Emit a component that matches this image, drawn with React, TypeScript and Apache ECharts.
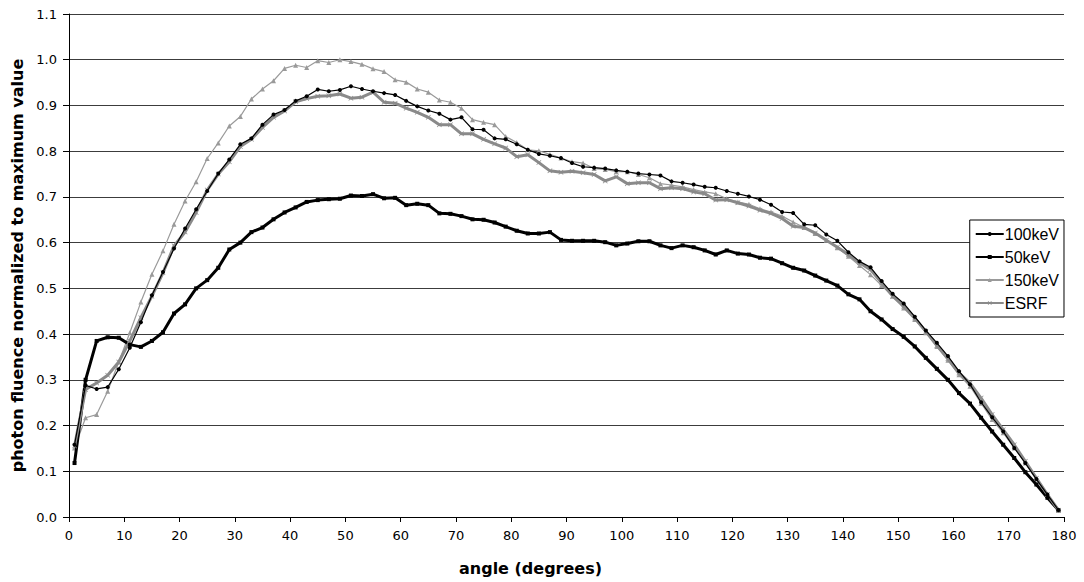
import React, { useEffect, useRef } from "react";
import * as echarts from "echarts";

// Sampled emission angles (degrees)
const angles = [
  1, 3, 5, 7, 9, 11, 13, 15, 17, 19, 21, 23, 25, 27, 29, 31, 33, 35, 37, 39,
  41, 43, 45, 47, 49, 51, 53, 55, 57, 59, 61, 63, 65, 67, 69, 71, 73, 75, 77, 79,
  81, 83, 85, 87, 89, 91, 93, 95, 97, 99, 101, 103, 105, 107, 109, 111, 113, 115, 117, 119,
  121, 123, 125, 127, 129, 131, 133, 135, 137, 139, 141, 143, 145, 147, 149, 151, 153, 155, 157, 159,
  161, 163, 165, 167, 169, 171, 173, 175, 177, 179,
];

const kev100 = [
  0.158, 0.288, 0.28, 0.284, 0.323, 0.37, 0.426, 0.485, 0.536, 0.587,
  0.631, 0.673, 0.713, 0.751, 0.782, 0.815, 0.828, 0.858, 0.88, 0.89,
  0.91, 0.92, 0.935, 0.931, 0.934, 0.942, 0.936, 0.931, 0.927, 0.923,
  0.91, 0.898, 0.889, 0.882, 0.869, 0.874, 0.848, 0.847, 0.828, 0.826,
  0.815, 0.803, 0.794, 0.79, 0.785, 0.774, 0.766, 0.764, 0.762, 0.758,
  0.755, 0.751, 0.749, 0.747, 0.734, 0.731, 0.727, 0.722, 0.72, 0.713,
  0.707, 0.701, 0.694, 0.683, 0.667, 0.665, 0.64, 0.638, 0.618, 0.604,
  0.579, 0.559, 0.546, 0.516, 0.488, 0.467, 0.438, 0.408, 0.381, 0.352,
  0.319, 0.29, 0.251, 0.218, 0.187, 0.151, 0.118, 0.083, 0.049, 0.015,
];

const kev50 = [
  0.118, 0.3, 0.385, 0.393, 0.392, 0.377, 0.372, 0.385, 0.404, 0.445,
  0.465, 0.5, 0.518, 0.545, 0.585, 0.6, 0.623, 0.633, 0.651, 0.666,
  0.677, 0.689, 0.693, 0.695, 0.696, 0.703, 0.702, 0.706, 0.697, 0.698,
  0.682, 0.685, 0.682, 0.664, 0.663, 0.658, 0.651, 0.65, 0.644, 0.635,
  0.626, 0.62, 0.62, 0.623, 0.606, 0.604, 0.604, 0.604, 0.601, 0.594,
  0.598, 0.603, 0.603, 0.594, 0.588, 0.594, 0.59, 0.583, 0.574, 0.583,
  0.576, 0.574, 0.567, 0.565, 0.555, 0.545, 0.539, 0.528, 0.517, 0.506,
  0.487, 0.476, 0.45, 0.432, 0.411, 0.394, 0.373, 0.348, 0.324, 0.3,
  0.271, 0.248, 0.217, 0.187, 0.158, 0.129, 0.098, 0.071, 0.042, 0.015,
];

const kev150 = [
  0.151, 0.217, 0.224, 0.275, 0.339, 0.403, 0.47, 0.531, 0.582, 0.64,
  0.691, 0.733, 0.784, 0.818, 0.855, 0.876, 0.914, 0.936, 0.954, 0.981,
  0.988, 0.983, 0.998, 0.994, 1.0, 0.996, 0.99, 0.98, 0.974, 0.956,
  0.951, 0.936, 0.929, 0.912, 0.907, 0.894, 0.869, 0.863, 0.858, 0.832,
  0.819, 0.803, 0.801, 0.793, 0.785, 0.777, 0.774, 0.762, 0.76, 0.755,
  0.755, 0.749, 0.742, 0.729, 0.726, 0.722, 0.716, 0.711, 0.707, 0.696,
  0.689, 0.684, 0.674, 0.667, 0.658, 0.645, 0.633, 0.62, 0.605, 0.589,
  0.57, 0.55, 0.53, 0.506, 0.483, 0.457, 0.432, 0.403, 0.373, 0.343,
  0.311, 0.286, 0.249, 0.213, 0.184, 0.151, 0.118, 0.083, 0.049, 0.015,
];

const esrf = [
  0.155, 0.279, 0.293, 0.31, 0.339, 0.385, 0.436, 0.483, 0.534, 0.593,
  0.623, 0.666, 0.715, 0.75, 0.777, 0.81, 0.826, 0.852, 0.874, 0.888,
  0.908, 0.915, 0.92, 0.921, 0.925, 0.916, 0.918, 0.929, 0.907, 0.905,
  0.894, 0.885, 0.874, 0.858, 0.858, 0.838, 0.838, 0.826, 0.816, 0.807,
  0.788, 0.792, 0.775, 0.757, 0.754, 0.756, 0.753, 0.749, 0.735, 0.744,
  0.729, 0.731, 0.731, 0.718, 0.72, 0.718, 0.711, 0.707, 0.693, 0.694,
  0.687, 0.68, 0.671, 0.664, 0.653, 0.636, 0.633, 0.621, 0.605, 0.59,
  0.574, 0.556, 0.541, 0.512, 0.483, 0.461, 0.435, 0.406, 0.375, 0.346,
  0.315, 0.293, 0.26, 0.224, 0.191, 0.158, 0.122, 0.085, 0.049, 0.015,
];

const seriesNames = ["100keV", "50keV", "150keV", "ESRF"];

// small "x" marker used for the ESRF curve
const CROSS =
  "path://M0,1L1,0L5,4L9,0L10,1L6,5L10,9L9,10L5,6L1,10L0,9L4,5Z";

const SANS = "'Liberation Sans', Arial, sans-serif";
const WIDE = "'DejaVu Sans', 'Liberation Sans', sans-serif";

function pairs(values: number[]) {
  return angles.map((a, i) => [a, values[i]]);
}

export default function App() {
  const ref = useRef<HTMLDivElement>(null);

  useEffect(() => {
    if (!ref.current) return;
    const chart = echarts.init(ref.current, null, { renderer: "svg" });

    const option = {
      animation: false,
      backgroundColor: "#ffffff",
      textStyle: { fontFamily: SANS },
      grid: { left: 69, right: 20, top: 14, bottom: 65, containLabel: false },
      legend: {
        orient: "vertical",
        right: 20,
        top: 220,
        data: seriesNames,
        backgroundColor: "#ffffff",
        borderColor: "#000000",
        borderWidth: 1,
        borderRadius: 0,
        padding: [6, 5, 6, 5],
        itemWidth: 28,
        itemHeight: 5,
        itemGap: 7,
        textStyle: {
          fontFamily: SANS,
          fontSize: 16,
          lineHeight: 16,
          color: "#000",
          padding: [0, 0, 0, -4],
        },
      },
      xAxis: {
        type: "value",
        min: 0,
        max: 180,
        interval: 10,
        name: "angle (degrees)",
        nameLocation: "middle",
        nameGap: 43,
        nameTextStyle: {
          fontFamily: WIDE,
          fontSize: 16,
          fontWeight: "bold",
          color: "#000",
          padding: [0, 72, 0, 0],
        },
        axisLine: { show: true, onZero: false, lineStyle: { color: "#000", width: 1 } },
        axisTick: { show: true, length: 5, lineStyle: { color: "#000" } },
        axisLabel: { fontFamily: WIDE, fontSize: 13, color: "#000", margin: 12 },
        splitLine: { show: false },
      },
      yAxis: {
        type: "value",
        min: 0,
        max: 1.1,
        interval: 0.1,
        name: "photon fluence normalized to maximum value",
        nameLocation: "middle",
        nameGap: 44,
        nameTextStyle: { fontFamily: WIDE, fontSize: 16, fontWeight: "bold", color: "#000" },
        axisLine: { show: true, lineStyle: { color: "#000", width: 1 } },
        axisTick: { show: true, length: 6, lineStyle: { color: "#000" } },
        axisLabel: {
          fontFamily: WIDE,
          fontSize: 13,
          color: "#000",
          margin: 12,
          formatter: (v: number) => v.toFixed(1),
        },
        splitLine: { show: true, lineStyle: { color: "#3c3c3c", width: 1 } },
      },
      series: [
        {
          name: "100keV",
          type: "line",
          data: pairs(kev100),
          symbol: "circle",
          symbolSize: 4,
          showSymbol: true,
          lineStyle: { color: "#000", width: 1.2 },
          itemStyle: { color: "#000" },
          z: 4,
        },
        {
          name: "50keV",
          type: "line",
          data: pairs(kev50),
          symbol: "rect",
          symbolSize: 4,
          showSymbol: true,
          lineStyle: { color: "#000", width: 3 },
          itemStyle: { color: "#000" },
          z: 3,
        },
        {
          name: "150keV",
          type: "line",
          data: pairs(kev150),
          symbol: "triangle",
          symbolSize: 5,
          showSymbol: true,
          lineStyle: { color: "#9a9a9a", width: 1.2 },
          itemStyle: { color: "#9a9a9a" },
          z: 2,
        },
        {
          name: "ESRF",
          type: "line",
          data: pairs(esrf),
          symbol: CROSS,
          symbolSize: 5,
          showSymbol: true,
          lineStyle: { color: "#8a8a8a", width: 3 },
          itemStyle: { color: "#8a8a8a" },
          z: 3,
        },
      ],
    };

    chart.setOption(option);
    return () => chart.dispose();
  }, []);

  return (
    <div
      ref={ref}
      style={{ position: "fixed", left: 0, top: 0, width: 1084, height: 582, background: "#fff" }}
    />
  );
}
